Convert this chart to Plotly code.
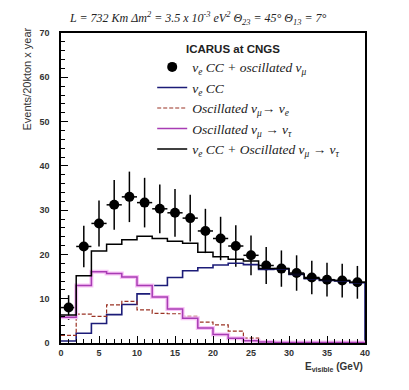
import plotly.graph_objects as go

# Bin edges (GeV) and bin centres
BIN_EDGES = [0, 2, 4, 6, 8, 10, 12, 14, 16, 18, 20, 22, 24, 26, 28, 30, 32, 34, 36, 38, 40]
BIN_CENTERS = [1, 3, 5, 7, 9, 11, 13, 15, 17, 19, 21, 23, 25, 27, 29, 31, 33, 35, 37, 39]

# nu_e CC + oscillated nu_mu (points)
DATA_Y = [8.0, 21.8, 27.0, 31.2, 33.0, 31.7, 30.3, 29.4, 28.2, 25.3,
          23.6, 21.9, 19.8, 17.5, 16.8, 15.8, 14.8, 14.3, 14.1, 13.7]
DATA_ERR = [2.8, 4.7, 5.2, 5.6, 5.7, 5.6, 5.5, 5.4, 5.3, 5.0,
            4.9, 4.7, 4.5, 4.2, 4.1, 4.0, 3.8, 3.8, 3.8, 3.7]

# histograms
NUE_CC = [0.45, 2.2, 4.4, 6.4, 8.7, 11.1, 13.0, 14.8, 16.3, 17.0,
          17.6, 18.0, 17.7, 16.6, 16.7, 15.5, 14.5, 14.1, 14.0, 13.6]
OSC_NUE = [1.7, 6.5, 6.0, 8.6, 9.4, 7.5, 6.7, 6.6, 6.0, 4.7,
           4.1, 2.7, 1.1, 0.4, 0.1, 0.0, 0.0, 0.0, 0.0, 0.0]
OSC_NUTAU = [5.8, 13.0, 16.1, 15.7, 14.9, 13.0, 10.4, 7.7, 5.6, 3.4,
             1.9, 1.1, 0.5, 0.2, 0.1, 0.1, 0.1, 0.1, 0.1, 0.1]
TOTAL = [6.3, 15.2, 20.8, 22.3, 23.3, 24.1, 23.6, 23.0, 22.5, 20.5,
         19.5, 18.9, 18.5, 16.8, 16.8, 15.6, 14.6, 14.2, 14.1, 13.7]

LEGEND_FONT = dict(family="Liberation Serif", size=13.5, color="#222", style="italic")


def step(values, drop=False):
    """x/y for an hv step line over the bin edges"""
    x = BIN_EDGES[:-1] + [BIN_EDGES[-1]]
    y = values + [values[-1]]
    if drop:
        x = x + [BIN_EDGES[-1]]
        y = y + [0]
    return x, y


fig = go.Figure()

fig.add_trace(go.Scatter(
    name="ν<sub>e</sub> CC + oscillated ν<sub>μ</sub>",
    x=BIN_CENTERS, y=DATA_Y,
    mode="markers",
    marker=dict(color="black", size=10),
    error_x=dict(type="constant", value=1, color="black", thickness=1.5, width=0),
    error_y=dict(type="data", array=DATA_ERR, color="black", thickness=1.5, width=0),
))

x, y = step(NUE_CC, drop=True)
fig.add_trace(go.Scatter(
    name="ν<sub>e</sub> CC", x=x, y=y, mode="lines", line_shape="hv",
    line=dict(color="#1c1c78", width=1.6),
))

x, y = step(OSC_NUE)
fig.add_trace(go.Scatter(
    name="Oscillated ν<sub>μ</sub>→ ν<sub>e</sub>", x=x, y=y, mode="lines", line_shape="hv",
    line=dict(color="#9a3324", width=1.2, dash="4px,2px"),
))

x, y = step(OSC_NUTAU)
fig.add_trace(go.Scatter(
    x=x, y=y, mode="lines", line_shape="hv", showlegend=False, hoverinfo="skip",
    line=dict(color="#f8c4f6", width=4),
))
fig.add_trace(go.Scatter(
    name="Oscillated ν<sub>μ</sub> → ν<sub>τ</sub>", x=x, y=y, mode="lines", line_shape="hv",
    line=dict(color="#a83cb4", width=1.5),
))

x, y = step(TOTAL)
fig.add_trace(go.Scatter(
    name="ν<sub>e</sub> CC + Oscillated ν<sub>μ</sub> → ν<sub>τ</sub>", x=x, y=y,
    mode="lines", line_shape="hv",
    line=dict(color="black", width=1.5),
))

axis_common = dict(
    showgrid=False, zeroline=False,
    showline=True, linecolor="black", linewidth=1.5, mirror=True,
    ticks="inside", tickcolor="black", tickwidth=1.2, ticklen=7,
    tickfont=dict(family="Liberation Sans", size=9, color="#333", weight="bold"),
)

fig.update_xaxes(range=[0, 40], dtick=5,
                 minor=dict(dtick=1, ticks="inside", ticklen=4, tickcolor="black"),
                 **axis_common)
fig.update_yaxes(range=[0, 70], dtick=10, ticklabelstandoff=8,
                 minor=dict(dtick=2, ticks="inside", ticklen=4, tickcolor="black"),
                 **axis_common)

# the page body adds an 8px margin, so the figure is a bit smaller than the window
fig.update_layout(
    width=393, height=374,
    margin=dict(l=53, r=36, t=25, b=39),
    plot_bgcolor="white", paper_bgcolor="white",
    showlegend=True,
    legend=dict(x=0.3, y=0.94, xanchor="left", yanchor="top",
                bgcolor="rgba(0,0,0,0)", font=LEGEND_FONT,
                tracegroupgap=0, itemwidth=30),
    annotations=[
        dict(text="<i>L = 732 Km Δm<sup>2</sup> = 3.5 x 10<sup>-3</sup> eV<sup>2</sup> "
                  "Θ<sub>23</sub> = 45° Θ<sub>13</sub> = 7°</i>",
             xref="paper", yref="paper", x=0.45, y=1.0, yshift=15,
             xanchor="center", yanchor="middle", showarrow=False,
             font=dict(family="Liberation Serif", size=12, color="#222")),
        dict(text="<b>ICARUS at CNGS</b>",
             xref="paper", yref="paper", x=0.565, y=0.95,
             xanchor="center", yanchor="middle", showarrow=False,
             font=dict(family="Liberation Sans", size=11.5, color="#222")),
        dict(text="Events/20kton x year", textangle=-90,
             xref="paper", yref="paper", x=-0.115, y=0.85,
             xanchor="center", yanchor="middle", showarrow=False,
             font=dict(family="Liberation Sans", size=11, color="#333")),
        dict(text="E<sub>visible</sub> (GeV)",
             xref="paper", yref="paper", x=1.0, y=0, yshift=-24,
             xanchor="right", yanchor="middle", showarrow=False,
             font=dict(family="Liberation Sans", size=10, color="#333", weight="bold")),
    ],
)

fig.write_html("out.html")
